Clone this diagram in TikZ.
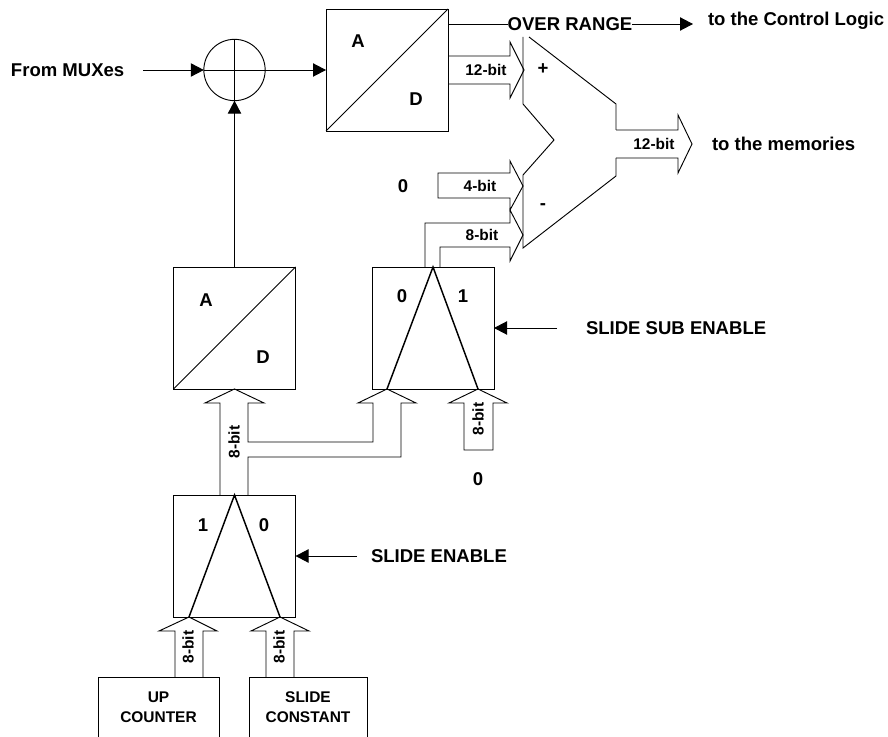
\documentclass[tikz,border=0pt]{standalone}
\usepackage{fontspec}
\setmainfont{Liberation Sans}
\usetikzlibrary{arrows.meta}
\tikzset{
  x=0.75pt,y=-0.75pt,
  boxnode/.style={draw,line width=0.7pt,minimum width=91.5pt,minimum height=91.5pt,inner sep=0pt,outer sep=0pt},
  openbox/.style={minimum height=45pt,inner sep=0pt,outer sep=0pt,align=center,font=\fontsize{11.6}{15}\selectfont\bfseries},
  lab/.style={inner sep=0pt,outer sep=0pt,font=\fontsize{13.9}{16}\selectfont\bfseries},
  small/.style={inner sep=0pt,outer sep=0pt,font=\fontsize{11.6}{14}\selectfont\bfseries},
  wire/.style={line width=0.7pt},
  sig/.style={line width=0.7pt,-{Triangle[length=9.75pt,width=10pt]}},
  bus/.style={line width=0.7pt,line join=miter},
  thick tri/.style={line width=1.1pt,line join=miter}
}
\begin{document}
\begin{tikzpicture}
\useasboundingbox (0,0) rectangle (888,737);
% boxes
\node[boxnode] (adtop) at (387,70) {};
\node[boxnode] (adleft) at (234.5,328) {};
\node[boxnode] (muxtop) at (433,328) {};
\node[boxnode] (muxbot) at (234.5,556) {};
\node[openbox,minimum width=90.75pt] (up) at (158.5,707) {UP\\COUNTER};
\node[openbox,minimum width=88.5pt] (sc) at (308,707) {SLIDE\\CONSTANT};
\draw[wire] (up.south west) -- (up.north west) -- (up.north east) -- (up.south east);
\draw[wire] (sc.south west) -- (sc.north west) -- (sc.north east) -- (sc.south east);
% A/D diagonals
\draw[wire] (adtop.south west) -- (adtop.north east);
\draw[wire] (adleft.south west) -- (adleft.north east);
% mux triangles
\coordinate (mtl) at (387,389); \coordinate (mtr) at (478,389);
\coordinate (mbl) at (189,617); \coordinate (mbr) at (280,617);
\draw[thick tri] (mtl) -- (muxtop.north) -- (mtr);
\draw[thick tri] (mbl) -- (muxbot.north) -- (mbr);
% summing junction
\node[draw,circle,line width=0.7pt,minimum size=46pt,inner sep=0pt,outer sep=0pt] (sum) at (234.5,70) {};
\draw[wire] (sum.north) -- (sum.south);
\draw[wire] (sum.west) -- (sum.east);
% labels
\node[lab,anchor=west] (from) at (11,70) {From MUXes};
\coordinate (fromend) at (143,70);
\draw[sig] (fromend) -- (sum.west);
\draw[sig] (sum.east) -- (adtop.west);
\draw[sig] (adleft.north) -- (sum.south);
\node[lab] (over) at (570,24) {OVER RANGE};
\coordinate (adover) at (448,24);
\draw[wire] (adover) -- (over.west);
\node[lab,anchor=west] (ctrl) at (708,21) {to the Control Logic};
\coordinate (ctrlend) at (693,24);
\draw[sig] (over.east) -- (ctrlend);
\node[lab,anchor=west] (mem) at (712,144) {to the memories};
\node[lab,anchor=west] (sse) at (586,328) {SLIDE SUB ENABLE};
\node[lab,anchor=west] (se) at (371,556) {SLIDE ENABLE};
\coordinate (ssetail) at (557,328);
\coordinate (setail) at (357,556);
\draw[sig] (ssetail) -- (muxtop.east);
\draw[sig] (setail) -- (muxbot.east);
\node[lab] (la1) at (358,41) {A};
\node[lab] (ld1) at (416,99) {D};
\node[lab] (la2) at (206,300) {A};
\node[lab] (ld2) at (263,357) {D};
\node[lab] (m0) at (402,296) {0};
\node[lab] (m1) at (463,296) {1};
\node[lab] (b1) at (203,525) {1};
\node[lab] (b0) at (264,525) {0};
\node[lab] (zero1) at (403,186) {0};
\node[lab] (zero2) at (478,479) {0};
\node[lab] (plus) at (543,69) {+};
\node[lab] (minus) at (543,207) {-};
\node[small] (b12a) at (486,70) {12-bit};
\node[small] (b4) at (480,186) {4-bit};
\node[small] (b8a) at (482,235) {8-bit};
\node[small] (b12b) at (654,144) {12-bit};
\node[small,rotate=90] (b8b) at (234,442) {8-bit};
\node[small,rotate=90] (b8c) at (478,419) {8-bit};
\node[small,rotate=90] (b8d) at (188,647) {8-bit};
\node[small,rotate=90] (b8e) at (279,647) {8-bit};
% subtractor outline
\coordinate (sub1) at (529,37);
\coordinate (sub2) at (616,104);
\coordinate (sub3) at (616,130);
\coordinate (sub4) at (616,158);
\coordinate (sub5) at (616,176);
\coordinate (sub6) at (523,248);
\coordinate (sub7) at (523,175);
\coordinate (sub8) at (554,140);
\coordinate (sub9) at (523,104);
\coordinate (sub10) at (523,37);
\draw[wire,line join=miter] (sub3) -- (sub2) -- (sub1);
\draw[wire,line join=miter] (sub4) -- (sub5) -- (sub6) -- (sub7) -- (sub8) -- (sub9) -- (sub10);
% buses
\draw[bus] (448,56) -- (510,56) -- (510,42) -- (524,70) -- (510,98) -- (510,84) -- (448,84);
\draw[bus] (sub3) -- (678,130) -- (678,115) -- (692,144) -- (678,173) -- (678,158) -- (sub4);
\draw[bus] (438,173) -- (510,173) -- (510,161) -- (523,186) -- (510,210) -- (510,198) -- (438,198) -- cycle;
\draw[bus] (425,267) -- (425,223) -- (510,223) -- (510,210) -- (523,235) -- (510,261) -- (510,247) -- (440,247) -- (440,267);
\draw[bus] (220,495) -- (220,403) -- (205,403) -- (adleft.south) -- (264,403) -- (248,403) -- (248,442) -- (373,442) -- (373,403) -- (358,403) -- (mtl) -- (416,403) -- (401,403) -- (401,457) -- (248,457) -- (248,495);
\draw[bus] (464,450) -- (464,403) -- (449,403) -- (mtr) -- (507,403) -- (493,403) -- (493,450) -- cycle;
\draw[bus] (175,677) -- (175,631) -- (159,631) -- (mbl) -- (217,631) -- (203,631) -- (203,677);
\draw[bus] (266,677) -- (266,631) -- (251,631) -- (mbr) -- (309,631) -- (294,631) -- (294,677);
\end{tikzpicture}
\end{document}
